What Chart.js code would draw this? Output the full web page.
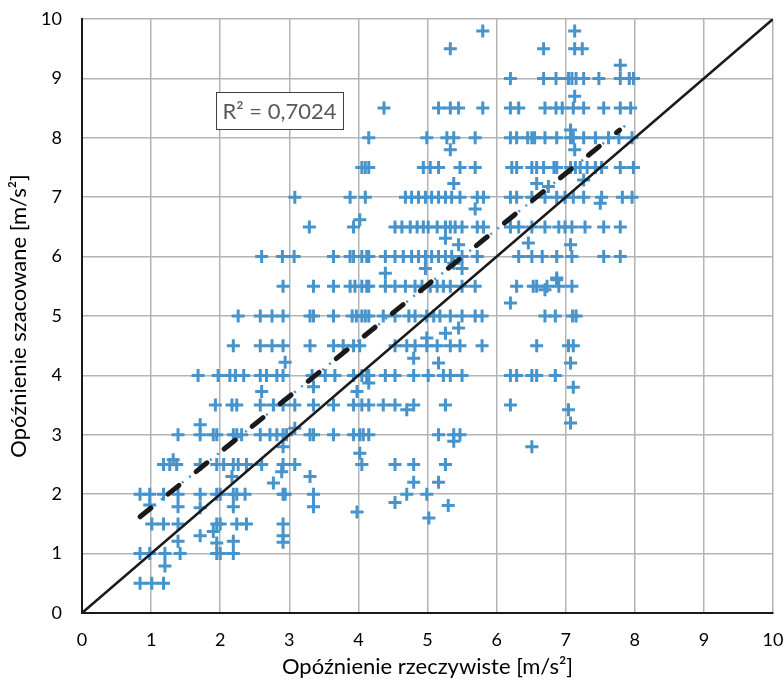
<!DOCTYPE html>
<html>
<head>
<meta charset="utf-8">
<script src="https://cdn.jsdelivr.net/npm/chart.js@4.4.1/dist/chart.umd.min.js"></script>
<style>
  html, body { margin: 0; padding: 0; background: #ffffff; }
</style>
</head>
<body>
<canvas id="delayChart" width="784" height="681"></canvas>
<script>
// estimated delay levels (y) and the measured delays (x) found on each level
const rowLevels = [0.5, 1, 1.5, 2, 2.5, 3, 3.5, 4, 4.5, 5, 5.5, 6, 6.5, 7, 7.5, 8, 8.5, 9, 9.5, 9.8];
const rowXs = [
  [0.84, 1.01, 1.18],
  [0.84, 0.98, 1.2, 1.42, 1.95, 2.0, 2.19],
  [1.01, 1.18, 1.39, 1.95, 2.0, 2.24, 2.38, 2.91],
  [0.84, 0.98, 1.18, 1.39, 1.71, 1.95, 2.0, 2.19, 2.24, 2.36, 2.91, 2.94, 3.35],
  [1.18, 1.27, 1.37, 1.71, 1.95, 2.05, 2.19, 2.26, 2.38, 2.6, 2.91, 3.08, 4.05, 4.53, 4.8, 5.26],
  [1.39, 1.71, 1.9, 1.95, 2.19, 2.24, 2.31, 2.58, 2.72, 2.82, 2.91, 2.96, 3.3, 3.35, 3.64, 3.93, 4.02, 4.07, 4.15, 5.16, 5.38, 5.47],
  [1.93, 2.17, 2.24, 2.58, 2.77, 2.91, 3.08, 3.35, 3.64, 3.93, 4.05, 4.15, 4.36, 4.53, 4.8, 5.26, 6.2],
  [1.68, 1.97, 2.14, 2.22, 2.34, 2.58, 2.67, 2.82, 2.91, 3.33, 3.52, 3.66, 3.93, 4.05, 4.12, 4.15, 4.39, 4.53, 4.8, 5.01, 5.23, 5.33, 5.5, 6.2, 6.29, 6.51, 6.58, 6.85],
  [2.19, 2.58, 2.75, 2.91, 3.3, 3.64, 3.78, 3.93, 4.02, 4.53, 4.7, 4.82, 4.99, 5.14, 5.33, 5.47, 5.79, 6.58, 7.04, 7.11],
  [2.26, 2.58, 2.75, 2.91, 3.3, 3.35, 3.64, 3.91, 3.97, 4.05, 4.1, 4.15, 4.36, 4.53, 4.73, 4.82, 4.99, 5.09, 5.18, 5.33, 5.5, 5.69, 5.79, 6.7, 6.85, 7.1, 7.15],
  [2.91, 3.35, 3.64, 3.88, 3.95, 4.05, 4.12, 4.15, 4.39, 4.53, 4.68, 4.82, 4.92, 5.04, 5.14, 5.23, 5.33, 5.5, 5.69, 6.29, 6.53, 6.58, 6.73, 6.9, 7.09],
  [2.6, 2.9, 3.07, 3.64, 3.88, 3.93, 4.05, 4.12, 4.15, 4.39, 4.53, 4.65, 4.77, 4.87, 4.97, 5.06, 5.16, 5.26, 5.35, 5.5, 5.72, 6.32, 6.51, 6.66, 6.87, 7.09, 7.55, 7.79],
  [3.29, 3.93, 4.53, 4.63, 4.75, 4.85, 4.94, 5.01, 5.14, 5.26, 5.33, 5.4, 5.5, 5.72, 5.81, 6.2, 6.32, 6.51, 6.7, 6.9, 6.99, 7.09, 7.28, 7.55, 7.79],
  [3.08, 3.88, 4.1, 4.68, 4.77, 4.87, 4.97, 5.06, 5.16, 5.26, 5.35, 5.47, 5.72, 5.81, 6.2, 6.29, 6.51, 6.7, 6.87, 6.99, 7.11, 7.26, 7.52, 7.82, 7.96],
  [4.05, 4.1, 4.15, 4.94, 5.04, 5.16, 5.47, 5.69, 6.22, 6.29, 6.51, 6.58, 6.68, 6.83, 6.87, 7.07, 7.14, 7.21, 7.31, 7.43, 7.52, 7.79, 7.98],
  [4.15, 4.99, 5.28, 5.38, 5.69, 6.2, 6.29, 6.45, 6.51, 6.55, 6.7, 6.87, 7.07, 7.11, 7.26, 7.43, 7.62, 7.77, 7.96],
  [4.37, 5.16, 5.33, 5.45, 5.8, 6.2, 6.32, 6.7, 6.86, 6.95, 7.11, 7.26, 7.55, 7.79, 7.94],
  [6.2, 6.68, 6.86, 7.04, 7.09, 7.15, 7.26, 7.48, 7.79, 7.92, 7.98],
  [5.33, 6.68, 7.13, 7.24],
  [5.8, 7.13]
];

// points that fall between the levels
const offGridX = [1.2, 1.95, 2.19, 1.39, 1.71, 1.9, 2.91, 2.91, 0.98, 1.39, 1.71, 2.19, 3.35, 3.98, 4.53,
  1.32, 4.02, 2.17, 2.89, 2.77, 3.3, 4.8, 5.16, 4.7, 4.99, 5.3, 5.02, 1.71, 3.08, 2.91, 5.38, 6.51,
  2.6, 4.7, 7.04, 7.07, 3.35, 3.98, 4.15, 7.11, 2.94, 4.99, 4.8, 5.16, 7.07, 5.45, 5.26,
  6.7, 6.87, 6.2, 4.39, 4.97, 5.38, 5.5, 6.87, 5.26, 5.45, 6.46, 7.07, 4.02, 5.69, 7.5,
  5.38, 6.58, 7.26, 6.75, 5.33, 7.13, 7.07, 7.13, 7.79];
const offGridY = [0.79, 1.18, 1.21, 1.21, 1.3, 1.37, 1.3, 1.19, 1.82, 1.79, 1.77, 1.79, 1.79, 1.7, 1.86,
  2.58, 2.69, 2.3, 2.38, 2.19, 2.3, 2.2, 2.2, 2.0, 2.0, 1.81, 1.6, 3.17, 3.11, 2.8, 2.89, 2.8,
  3.73, 3.42, 3.42, 3.2, 3.81, 3.73, 3.87, 3.8, 4.22, 4.63, 4.29, 4.21, 4.21, 4.8, 4.71,
  5.44, 5.61, 5.22, 5.72, 5.8, 5.89, 5.8, 5.64, 6.31, 6.2, 6.23, 6.2, 6.62, 6.8, 6.9,
  7.23, 7.23, 7.29, 7.18, 7.8, 7.8, 8.13, 8.7, 9.22];

// lines: y = x, linear trend, and the drawn-over dashed fit
const identityX = [0, 10];
const identityY = [0, 10];
const trendX = [0.84, 7.89];
const trendY = [1.62, 8.23];
const fitX = [0.84, 7.78];
const fitY = [1.62, 8.13];

const r2Text = "R² = 0,7024";
const xTitle = "Opóźnienie rzeczywiste [m/s²]";
const yTitle = "Opóźnienie szacowane [m/s²]";

function toPoints(xs, ys) {
  return xs.map((x, i) => ({ x: x, y: ys[i] }));
}

function createDelayChart() {
  const points = [];
  rowLevels.forEach((level, i) => {
    rowXs[i].forEach((x) => points.push({ x: x, y: level }));
  });
  offGridX.forEach((x, i) => points.push({ x: x, y: offGridY[i] }));

  const fontFamily = "Lato, 'Open Sans', sans-serif";
  const blue = "#4694CB";

  const r2Box = {
    id: "r2Box",
    afterDatasetsDraw(chart) {
      const ctx = chart.ctx;
      ctx.save();
      ctx.font = "22px " + fontFamily;
      const left = 216, top = 92, w = 127, h = 37;
      ctx.fillStyle = "#ffffff";
      ctx.fillRect(left, top, w, h);
      ctx.strokeStyle = "#404040";
      ctx.lineWidth = 1;
      ctx.strokeRect(left + 0.5, top + 0.5, w, h);
      ctx.fillStyle = "#595959";
      ctx.textAlign = "center";
      ctx.textBaseline = "middle";
      ctx.fillText(r2Text, left + w / 2, top + h / 2 + 1);
      ctx.restore();
    },
  };

  const ctx = document.getElementById("delayChart").getContext("2d");
  new Chart(ctx, {
    type: "scatter",
    data: {
      datasets: [
        {
          data: toPoints(identityX, identityY),
          showLine: true,
          borderColor: "#1a1a1a",
          borderWidth: 2.5,
          pointRadius: 0,
        },
        {
          data: toPoints(fitX, fitY),
          showLine: true,
          borderColor: "#1a1a1a",
          borderWidth: 5,
          borderDash: [14, 22],
          borderCapStyle: "round",
          pointRadius: 0,
        },
        {
          data: toPoints(trendX, trendY),
          showLine: true,
          borderColor: blue,
          borderWidth: 2.5,
          borderDash: [2, 7],
          pointRadius: 0,
        },
        {
          data: points,
          pointStyle: "cross",
          pointRadius: 6.5,
          pointBorderWidth: 3,
          pointBorderColor: blue,
          pointBackgroundColor: blue,
        },
      ],
    },
    options: {
      responsive: false,
      animation: false,
      events: [],
      devicePixelRatio: 1,
      layout: {
        padding: { top: 19, right: 11, left: 0, bottom: 0 },
      },
      plugins: {
        legend: { display: false },
        tooltip: { enabled: false },
      },
      scales: {
        x: {
          type: "linear",
          min: 0,
          max: 10,
          ticks: {
            stepSize: 1,
            padding: 16,
            color: "#000000",
            font: { family: fontFamily, size: 18 },
          },
          grid: { color: "#b4b4b4", lineWidth: 1.5, drawTicks: false },
          border: { color: "#1a1a1a", width: 2 },
          title: {
            display: true,
            text: xTitle,
            color: "#000000",
            font: { family: fontFamily, size: 22 },
            padding: { top: 0, bottom: 1 },
          },
          afterFit: (scale) => {
            scale.height = 68;
            scale.paddingLeft = 0;
            scale.paddingRight = 0;
          },
        },
        y: {
          type: "linear",
          min: 0,
          max: 10,
          ticks: {
            stepSize: 1,
            padding: 20,
            color: "#000000",
            font: { family: fontFamily, size: 18 },
          },
          grid: { color: "#b4b4b4", lineWidth: 1.5, drawTicks: false },
          border: { color: "#1a1a1a", width: 2 },
          title: {
            display: true,
            text: yTitle,
            color: "#000000",
            font: { family: fontFamily, size: 22 },
            padding: { top: 6, bottom: 0 },
          },
          afterFit: (scale) => {
            scale.width = 82;
            scale.paddingTop = 0;
            scale.paddingBottom = 0;
          },
        },
      },
    },
    plugins: [r2Box],
  });
}

createDelayChart();
</script>
</body>
</html>
